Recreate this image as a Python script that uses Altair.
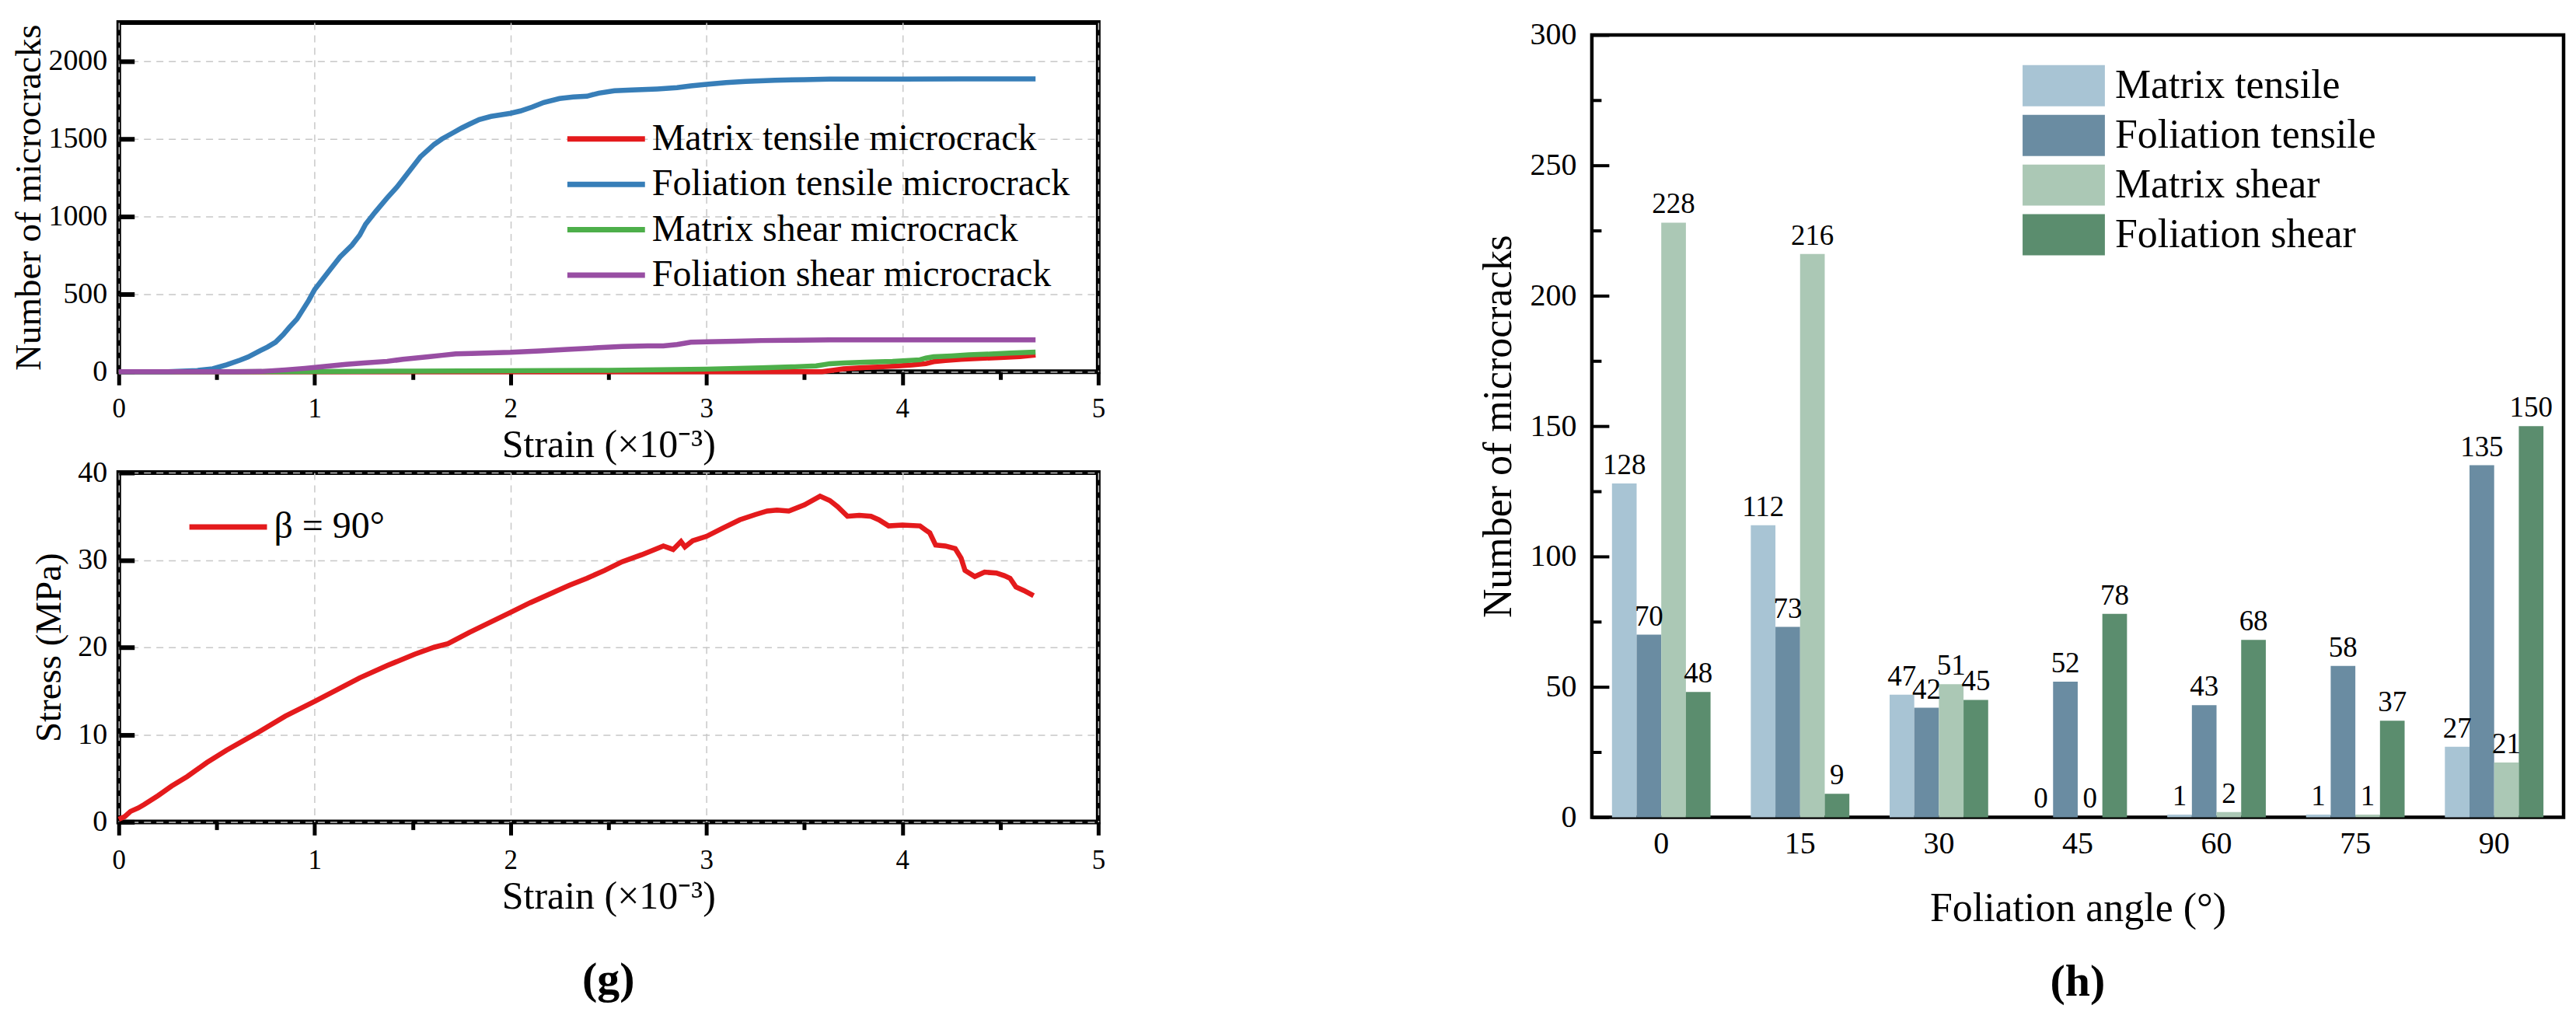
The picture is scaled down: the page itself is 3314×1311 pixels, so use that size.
import altair as alt
import pandas as pd

# ---------------- (g) top: cumulative microcracks vs strain ----------------
series_names = ["Matrix tensile microcrack", "Foliation tensile microcrack",
                "Matrix shear microcrack", "Foliation shear microcrack"]
series_colors = ["#E41A1C", "#377EB8", "#4DAF4A", "#984EA3"]

strain_mt = [0, 3.59, 3.65, 3.70, 3.80, 3.90, 3.98, 4.05, 4.12, 4.16, 4.22, 4.30, 4.40, 4.50, 4.60, 4.68]
count_mt = [0, 0, 10, 19, 26, 32, 38, 44, 52, 65, 72, 80, 86, 92, 98, 108]

strain_ft = [0.0, 0.25, 0.40, 0.48, 0.55, 0.62, 0.66, 0.72, 0.76, 0.80, 0.84, 0.87, 0.91, 0.94, 0.97,
             1.00, 1.04, 1.08, 1.13, 1.19, 1.23, 1.26, 1.31, 1.37, 1.42, 1.46, 1.50, 1.54, 1.58, 1.61,
             1.65, 1.70, 1.75, 1.79, 1.84, 1.90, 1.95, 2.00, 2.05, 2.11, 2.17, 2.25, 2.32, 2.39, 2.45,
             2.53, 2.62, 2.75, 2.85, 2.92, 3.00, 3.10, 3.20, 3.35, 3.50, 3.63, 3.80, 4.00, 4.30, 4.68]
count_ft = [0, 0, 8, 19, 45, 75, 95, 135, 160, 190, 240, 285, 340, 400, 460,
            530, 595, 660, 740, 815, 880, 950, 1030, 1120, 1190, 1255, 1320, 1385, 1430, 1465,
            1500, 1535, 1570, 1595, 1625, 1645, 1655, 1665, 1680, 1705, 1735, 1760, 1770, 1775, 1795,
            1810, 1815, 1822, 1830, 1842, 1852, 1863, 1870, 1878, 1882, 1885, 1885, 1886, 1887, 1887]

strain_ms = [0, 1.0, 1.5, 2.0, 2.5, 2.75, 3.0, 3.28, 3.45, 3.56, 3.60, 3.63, 3.70, 3.81, 3.95, 4.09,
             4.12, 4.16, 4.25, 4.34, 4.45, 4.55, 4.68]
count_ms = [0, 1, 4, 6, 9, 13, 17, 25, 32, 38, 46, 52, 56, 61, 66, 77, 88, 96, 102, 109, 114, 120, 126]

strain_fs = [0, 0.6, 0.73, 0.85, 0.95, 1.01, 1.10, 1.16, 1.25, 1.37, 1.45, 1.58, 1.65, 1.72, 1.80,
             1.90, 2.00, 2.15, 2.29, 2.45, 2.57, 2.70, 2.78, 2.85, 2.92, 3.00, 3.15, 3.28, 3.45, 3.63,
             3.90, 4.30, 4.68]
count_fs = [0, 0, 2, 12, 22, 29, 40, 48, 56, 67, 80, 96, 106, 115, 118, 122, 125, 134, 144, 155,
            163, 166, 167, 175, 190, 193, 197, 201, 203, 205, 206, 206, 206]

# ---------------- (g) bottom: stress-strain ----------------
stress_label = "β = 90°"
strain_ss = [0.0, 0.03, 0.06, 0.10, 0.13, 0.20, 0.27, 0.35, 0.45, 0.55, 0.70, 0.85, 1.00, 1.12,
             1.23, 1.37, 1.51, 1.61, 1.68, 1.79, 1.90, 2.00, 2.10, 2.22, 2.30, 2.39, 2.48, 2.57,
             2.67, 2.78, 2.83, 2.87, 2.89, 2.93, 3.00, 3.08, 3.17, 3.25, 3.31, 3.36, 3.42, 3.50,
             3.58, 3.63, 3.67, 3.72, 3.78, 3.84, 3.88, 3.93, 4.00, 4.09, 4.12, 4.14, 4.17, 4.22,
             4.27, 4.30, 4.32, 4.37, 4.42, 4.48, 4.52, 4.55, 4.58, 4.62, 4.67]
stress_ss = [0.3, 0.6, 1.2, 1.6, 2.0, 3.0, 4.1, 5.2, 6.8, 8.2, 10.1, 12.1, 13.8, 15.2,
             16.5, 17.9, 19.2, 20.0, 20.4, 21.7, 22.9, 24.0, 25.1, 26.3, 27.1, 27.9, 28.8, 29.8,
             30.6, 31.6, 31.2, 32.1, 31.5, 32.2, 32.7, 33.6, 34.6, 35.2, 35.6, 35.7, 35.6, 36.3,
             37.3, 36.8, 36.1, 35.0, 35.1, 35.0, 34.6, 33.9, 34.0, 33.9, 33.4, 33.1, 31.7, 31.6,
             31.3, 30.2, 28.8, 28.1, 28.6, 28.5, 28.2, 27.9, 26.9, 26.5, 25.9]

# ---------------- (h) bar chart ----------------
angles = ["0", "15", "30", "45", "60", "75", "90"]
bar_types = ["Matrix tensile", "Foliation tensile", "Matrix shear", "Foliation shear"]
bar_colors = ["#A8C4D4", "#6A8CA2", "#ABC8B5", "#5B8D6E"]
matrix_tensile = [128, 112, 47, 0, 1, 1, 27]
foliation_tensile = [70, 73, 42, 52, 43, 58, 135]
matrix_shear = [228, 216, 51, 0, 2, 1, 21]
foliation_shear = [48, 9, 45, 78, 68, 37, 150]

strain_ticks = [0, 0.5, 1, 1.5, 2, 2.5, 3, 3.5, 4, 4.5, 5]

# ---------------- tables ----------------
rows = []
for name, xs, ys in [(series_names[0], strain_mt, count_mt),
                     (series_names[1], strain_ft, count_ft),
                     (series_names[2], strain_ms, count_ms),
                     (series_names[3], strain_fs, count_fs)]:
    for i, (a, b) in enumerate(zip(xs, ys)):
        rows.append({"strain": a, "count": b, "series": name, "order": i})
df_top = pd.DataFrame(rows)

df_ss = pd.DataFrame({"strain": strain_ss, "stress": stress_ss,
                      "series": [stress_label] * len(strain_ss),
                      "order": list(range(len(strain_ss)))})

brows = []
for t, vals in zip(bar_types, [matrix_tensile, foliation_tensile, matrix_shear, foliation_shear]):
    for a, v in zip(angles, vals):
        brows.append({"angle": a, "type": t, "value": v})
df_bar = pd.DataFrame(brows)

FONT = "Liberation Serif"
is_major = "datum.value % 1 === 0"
LINE_SYMBOL = "M-2,0H2"
RECT_SYMBOL = "M-2,-1H2V1H-2Z"


def strain_axis(pad):
    return alt.Axis(
        values=strain_ticks,
        labelExpr=f"{is_major} ? '' + datum.value : ''",
        tickSize={"condition": {"test": is_major, "value": 17}, "value": 10},
        tickWidth=5,
        gridOpacity={"condition": {"test": is_major, "value": 1}, "value": 0},
        grid=True, domain=False,
        labelFont=FONT, titleFont=FONT,
        labelFontSize=35, labelPadding=pad, labelFlush=False,
        title="Strain (×10⁻³)", titleFontSize=50, titlePadding=4,
    )


top = alt.Chart(df_top).mark_line(strokeWidth=6.5).encode(
    x=alt.X("strain:Q", scale=alt.Scale(domain=[0, 5], nice=False), axis=strain_axis(13)),
    y=alt.Y("count:Q", scale=alt.Scale(domain=[0, 2250], nice=False),
            axis=alt.Axis(values=[0, 500, 1000, 1500, 2000], format="d", tickSize=20, offset=-20,
                          tickWidth=6, domain=False, grid=True, labelFontSize=38,
                          labelFont=FONT, titleFont=FONT,
                          labelPadding=15, title="Number of microcracks",
                          titleFontSize=47, titlePadding=0)),
    color=alt.Color("series:N", scale=alt.Scale(domain=series_names, range=series_colors),
                    legend=alt.Legend(orient="none", legendX=599.5, legendY=121.5, title=None,
                                      symbolType=LINE_SYMBOL, symbolSize=2500,
                                      symbolStrokeWidth=7, labelFontSize=48, labelFont=FONT,
                                      rowPadding=5.5, labelOffset=30.5, padding=0, labelLimit=0)),
    order="order:Q",
).properties(width=1262, height=450)

bottom = alt.Chart(df_ss).mark_line(strokeWidth=6.5).encode(
    x=alt.X("strain:Q", scale=alt.Scale(domain=[0, 5], nice=False), axis=strain_axis(15)),
    y=alt.Y("stress:Q", scale=alt.Scale(domain=[0, 40], nice=False),
            axis=alt.Axis(values=[0, 10, 20, 30, 40], format="d", tickSize=20, offset=-20,
                          tickWidth=6, domain=False, grid=True, labelFontSize=38,
                          labelFont=FONT, titleFont=FONT,
                          labelPadding=15, title="Stress (MPa)",
                          titleFontSize=47, titlePadding=12)),
    color=alt.Color("series:N", scale=alt.Scale(domain=[stress_label], range=["#E41A1C"]),
                    legend=alt.Legend(orient="none", legendX=112.5, legendY=41.5, title=None,
                                      symbolType=LINE_SYMBOL, symbolSize=2500,
                                      symbolStrokeWidth=7, labelFontSize=48, labelFont=FONT,
                                      labelOffset=30.5, padding=0, labelLimit=0)),
    order="order:Q",
).properties(width=1262, height=450,
             title=alt.TitleParams("(g)", orient="bottom", fontSize=58, fontWeight="bold",
                                   font=FONT, offset=54))

left = alt.vconcat(top, bottom, spacing=130, bounds="flush").resolve_scale(color="independent")

base = alt.Chart(df_bar).encode(
    x=alt.X("angle:N", sort=angles,
            scale=alt.Scale(paddingInner=0.29, paddingOuter=0.145),
            axis=alt.Axis(ticks=False, domain=False, labelAngle=0, labelFontSize=40,
                          labelFont=FONT, titleFont=FONT,
                          labelPadding=14, title="Foliation angle (°)", titleFontSize=52,
                          titlePadding=38)),
    xOffset=alt.XOffset("type:N", sort=bar_types,
                        scale=alt.Scale(paddingInner=0, paddingOuter=0)),
)

bars = base.mark_bar().encode(
    y=alt.Y("value:Q", scale=alt.Scale(domain=[0, 300], nice=False),
            axis=alt.Axis(values=[0, 50, 100, 150, 200, 250, 300], tickSize=22, offset=-22,
                          tickWidth=4, domain=False, grid=False, labelFontSize=40,
                          labelFont=FONT, titleFont=FONT,
                          labelPadding=20, title="Number of microcracks",
                          titleFontSize=52, titlePadding=14)),
    color=alt.Color("type:N", scale=alt.Scale(domain=bar_types, range=bar_colors),
                    legend=alt.Legend(orient="none", legendX=581.5, legendY=55, title=None,
                                      symbolType=RECT_SYMBOL, symbolSize=2809,
                                      symbolStrokeWidth=0, symbolOpacity=1,
                                      labelFontSize=52, labelFont=FONT,
                                      rowPadding=11, labelOffset=39.5, padding=0,
                                      labelLimit=0)),
)

labels = base.mark_text(baseline="bottom", dy=-4, fontSize=37, font=FONT, color="black").encode(
    y=alt.Y("value:Q",
            axis=alt.Axis(orient="left", values=[25, 75, 125, 175, 225, 275], tickSize=12,
                          offset=-12, tickWidth=4, domain=False, grid=False, labels=False,
                          title=None)),
    text="value:Q",
)

right = alt.layer(bars, labels).resolve_axis(y="independent").properties(
    width=1252, height=1008,
    view=alt.ViewBackground(stroke="black", strokeWidth=4.5),
    title=alt.TitleParams("(h)", orient="bottom", fontSize=58, fontWeight="bold",
                          font=FONT, offset=41))

spacer = alt.Chart(df_bar).mark_text(opacity=0).encode(text=alt.value(" ")).properties(
    width=1252, height=1, view=alt.ViewBackground(stroke="transparent", strokeOpacity=0))

right_col = alt.vconcat(spacer, right, spacing=15, bounds="flush")

chart = alt.hconcat(left, right_col, spacing=474).resolve_scale(color="independent").properties(
    padding={"left": 3, "top": 13, "right": 5, "bottom": 5}
).configure(font=FONT).configure_view(stroke="black", strokeWidth=6).configure_axis(
    labelColor="black", titleColor="black", tickColor="black", titleFontWeight="normal",
    labelFont=FONT, titleFont=FONT, gridColor="#c8c8c8", gridDash=[9, 7], gridWidth=1.5
).configure_legend(labelColor="black", labelFont=FONT).configure_text(font=FONT)

chart.save("out.html", embed_options={"renderer": "svg", "actions": False})
